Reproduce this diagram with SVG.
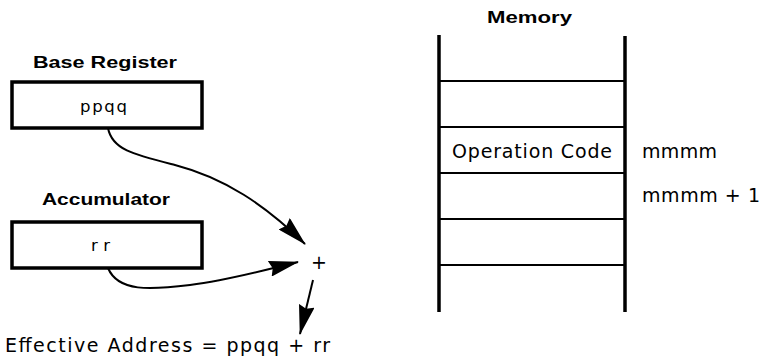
<svg xmlns="http://www.w3.org/2000/svg" width="761" height="358" viewBox="0 0 761 358">
<defs>
<style>
.t{font-family:"DejaVu Sans","Liberation Sans",Arial,sans-serif;fill:#000}
.b{font-family:"Liberation Sans",Arial,sans-serif;font-weight:bold;font-size:16.5px}
.r{font-size:19px}
.s{font-size:16.5px}
.box{fill:#fff;stroke:#000;stroke-width:3.5}
.mem{stroke:#000;stroke-width:3.5;fill:none}
.row{stroke:#000;stroke-width:2;fill:none}
.c{stroke:#000;stroke-width:2;fill:none}
</style>
<marker id="ahl" viewBox="0 0 30 16" refX="29" refY="8" markerWidth="30" markerHeight="16" markerUnits="userSpaceOnUse" orient="auto">
<path d="M0,0 L30,8 L0,16 L3,8 Z" fill="#000"/>
</marker>
</defs>
<rect width="761" height="358" fill="#fff"/>
<g id="base-register">
<text class="t b" x="33" y="68" textLength="144" lengthAdjust="spacingAndGlyphs">Base Register</text>
<rect class="box" x="12" y="82" width="190" height="46"/>
<text class="t s" x="80" y="112" textLength="47" lengthAdjust="spacing">ppqq</text>
</g>
<g id="accumulator">
<text class="t b" x="42" y="205" textLength="128" lengthAdjust="spacingAndGlyphs">Accumulator</text>
<rect class="box" x="12" y="222" width="190" height="46"/>
<text class="t s" x="91" y="251" textLength="19" lengthAdjust="spacing">rr</text>
</g>
<g id="adder">
<text class="t" font-size="19" x="311" y="269">+</text>
</g>
<g id="effective-address">
<text class="t r" x="5" y="352" textLength="325" lengthAdjust="spacing">Effective Address = ppqq + rr</text>
</g>
<g id="memory">
<text class="t b" x="487" y="23" textLength="85" lengthAdjust="spacingAndGlyphs">Memory</text>
<line class="mem" x1="439" y1="35" x2="439" y2="312"/>
<line class="mem" x1="625" y1="36" x2="625" y2="312"/>
<line class="row" x1="439" y1="81" x2="625" y2="81"/>
<line class="row" x1="439" y1="127" x2="625" y2="127"/>
<line class="row" x1="439" y1="173" x2="625" y2="173"/>
<line class="row" x1="439" y1="219" x2="625" y2="219"/>
<line class="row" x1="439" y1="265" x2="625" y2="265"/>
<text class="t r" x="452" y="158" textLength="160" lengthAdjust="spacing">Operation Code</text>
<text class="t r" x="642" y="158" textLength="75" lengthAdjust="spacing">mmmm</text>
<text class="t r" x="642" y="202" textLength="118" lengthAdjust="spacing">mmmm + 1</text>
</g>
<g id="connectors">
<path class="c" d="M108,128 C112,150 135,155 175,165 C225,178 265,205 305,244" marker-end="url(#ahl)"/>
<path class="c" d="M108,268 C118,292 150,290 190,285 C230,280 265,270 298,262" marker-end="url(#ahl)"/>
<path class="c" stroke-width="3" d="M313,280 L300,334" marker-end="url(#ahl)"/>
</g>
</svg>
